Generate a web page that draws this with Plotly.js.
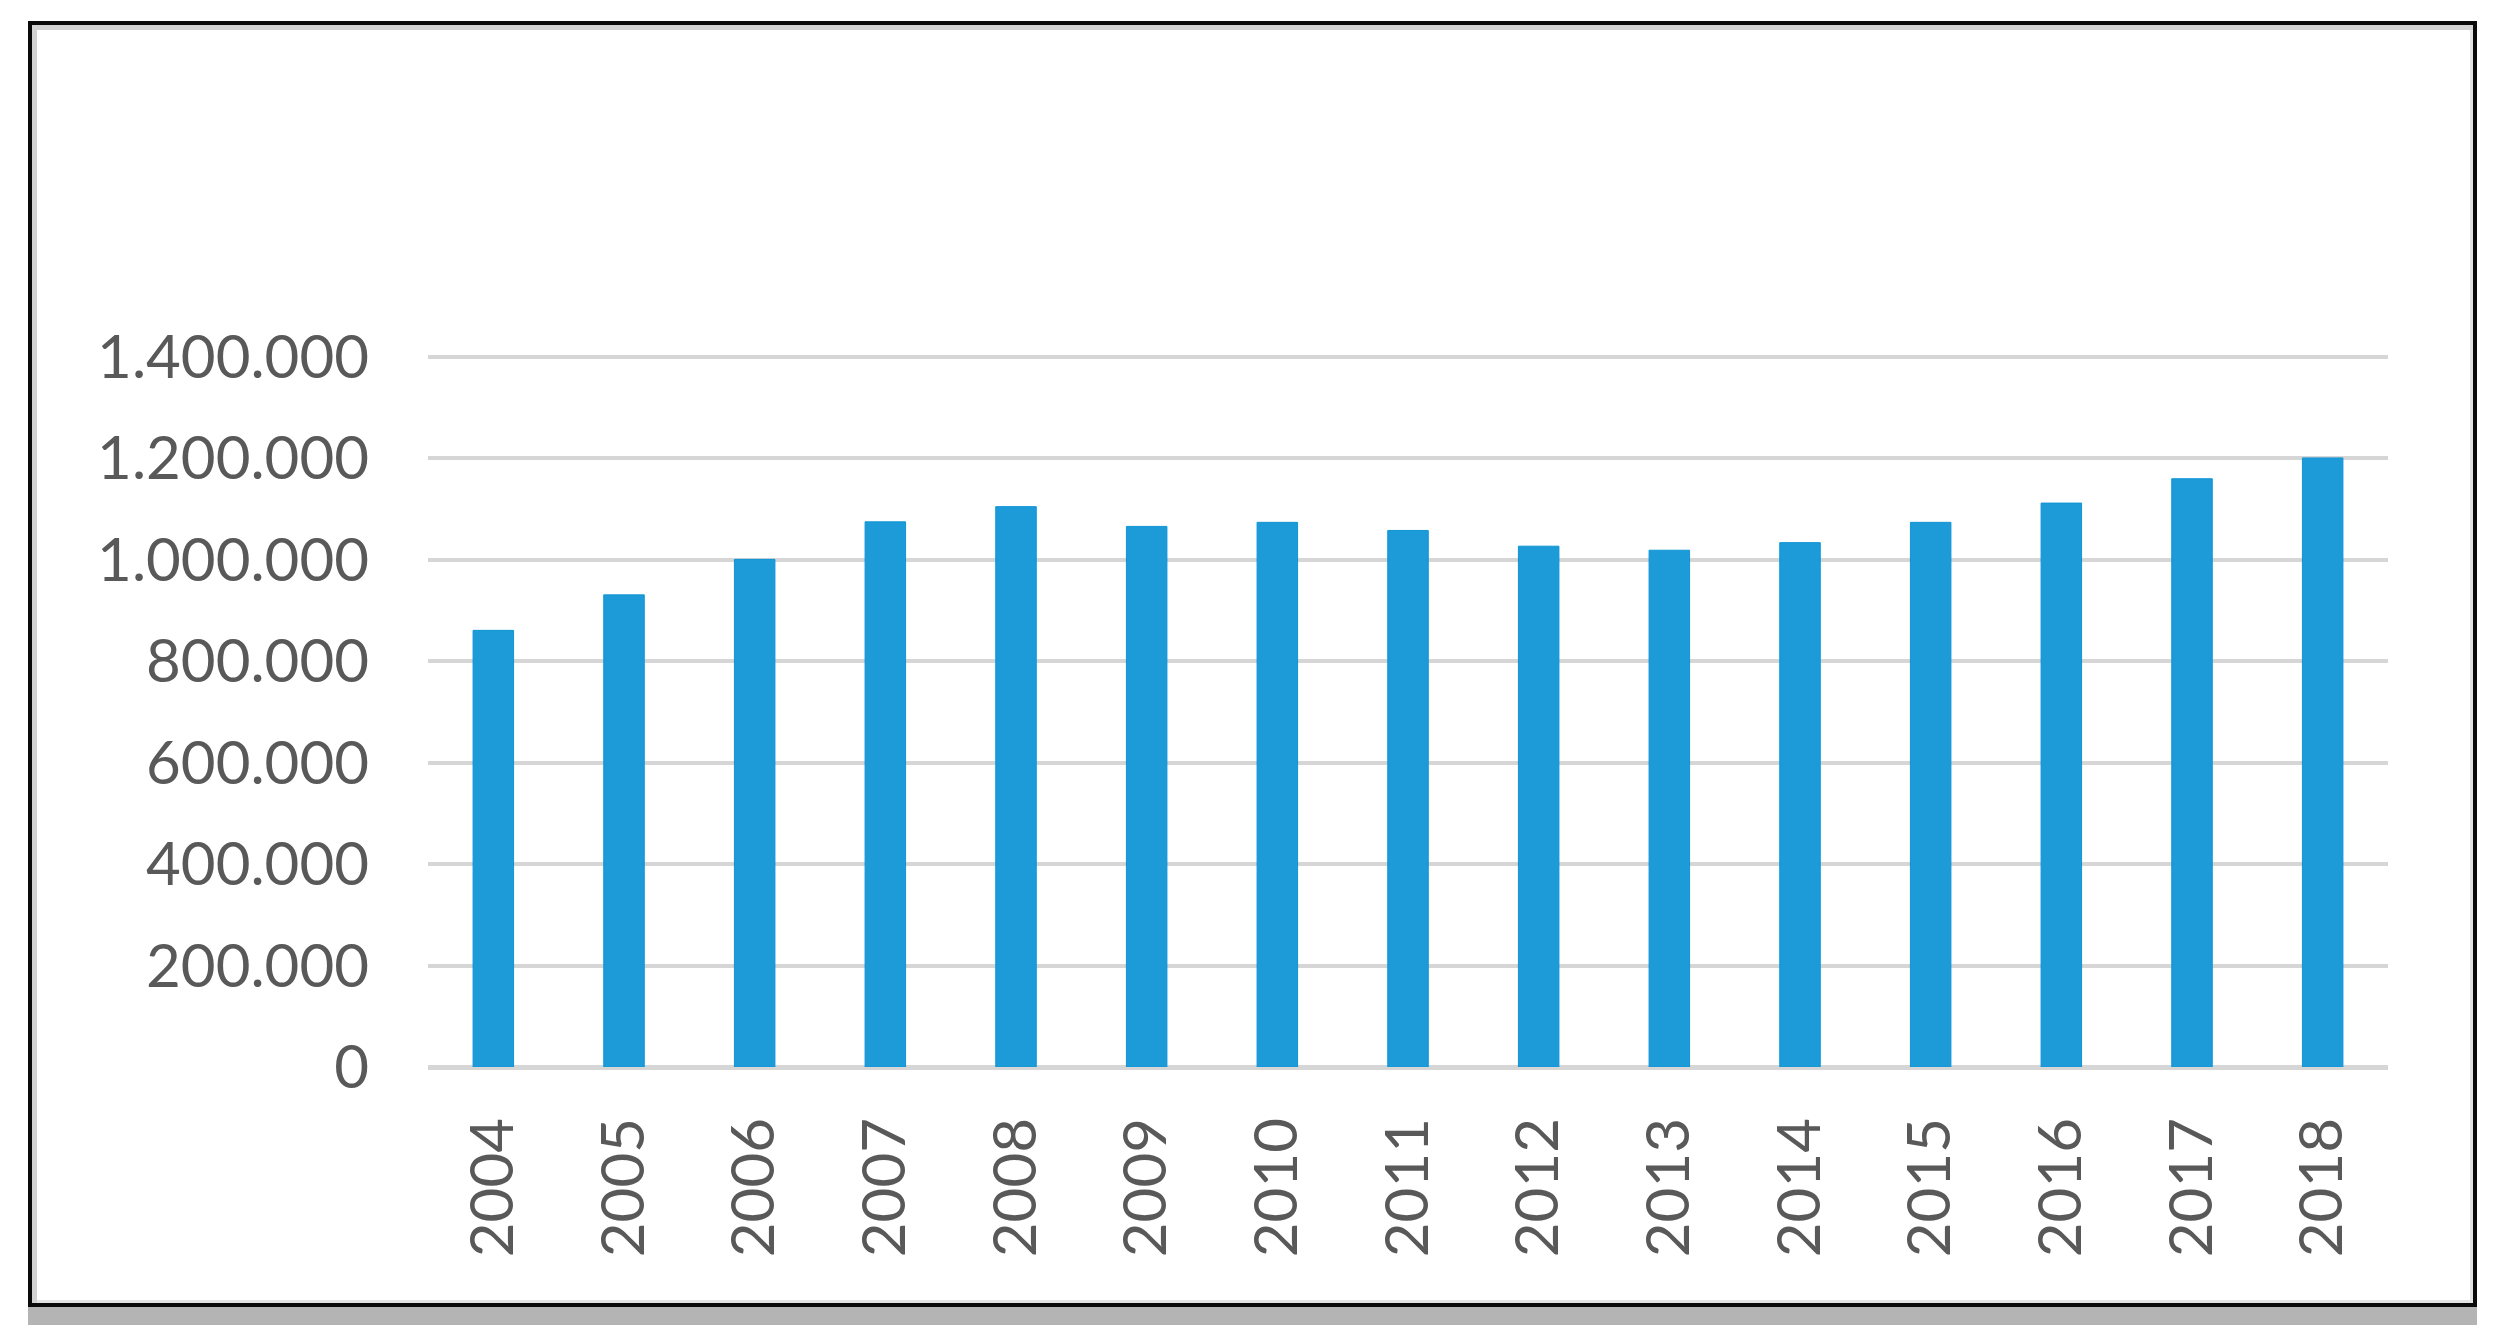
<!DOCTYPE html>
<html>
<head>
<meta charset="utf-8">
<script src="https://cdn.plot.ly/plotly-3.0.1.min.js"></script>
<style>
    html, body { margin: 0; padding: 0; background: #FFFFFF; }
    #frame {
        position: absolute;
        left: 28px;
        top: 21px;
        width: 2449px;
        height: 1286px;
        box-sizing: border-box;
        border: 4px solid #0A0A0A;
        background: #FFFFFF;
        box-shadow: inset 5px 5px 0 0 #D2D2D2, inset -3px -3px 0 0 #E2E2E2, 0 18px 0 0 #B4B4B4;
    }
    #chart {
        position: absolute;
        left: 0;
        top: 0;
        width: 2502px;
        height: 1335px;
    }
</style>
</head>
<body>
<div id="frame"></div>
<div id="chart"></div>
<script>
    var years = ['2004', '2005', '2006', '2007', '2008', '2009', '2010', '2011',
                 '2012', '2013', '2014', '2015', '2016', '2017', '2018'];
    var values = [861000, 931000, 1001000, 1075000, 1105000, 1066000, 1074000, 1058000,
                  1027000, 1019000, 1034000, 1074000, 1112000, 1160000, 1201000];
    var yTicks = [0, 200000, 400000, 600000, 800000, 1000000, 1200000, 1400000];

    var fontFamily = 'Lato, "Open Sans", "Liberation Sans", sans-serif';

    var data = [{
        type: 'bar',
        x: years,
        y: values,
        marker: { color: '#1C9BD8', line: { color: '#0F95D4', width: 1 } },
        hoverinfo: 'x+y'
    }];

    var layout = {
        width: 2502,
        height: 1335,
        margin: { l: 428, r: 114, t: 355, b: 268 },
        paper_bgcolor: 'rgba(0,0,0,0)',
        plot_bgcolor: 'rgba(0,0,0,0)',
        separators: ',.',
        showlegend: false,
        bargap: 0.69,
        font: { family: fontFamily, size: 60, color: '#595959' },
        xaxis: {
            type: 'category',
            tickangle: -90,
            showgrid: false,
            showline: false,
            ticks: '',
            ticklabelstandoff: 38,
            automargin: false,
            tickfont: { family: fontFamily, size: 60, color: '#595959' }
        },
        yaxis: {
            range: [0, 1404000],
            tickvals: yTicks,
            tickformat: ',d',
            showgrid: true,
            gridcolor: '#D6D6D6',
            gridwidth: 4,
            zeroline: true,
            zerolinecolor: '#D6D6D6',
            zerolinewidth: 5,
            showline: false,
            ticks: '',
            ticklabelstandoff: 58,
            automargin: false,
            tickfont: { family: fontFamily, size: 60, color: '#595959' }
        }
    };

    Plotly.newPlot('chart', data, layout, { displayModeBar: false, staticPlot: true });
</script>
</body>
</html>
